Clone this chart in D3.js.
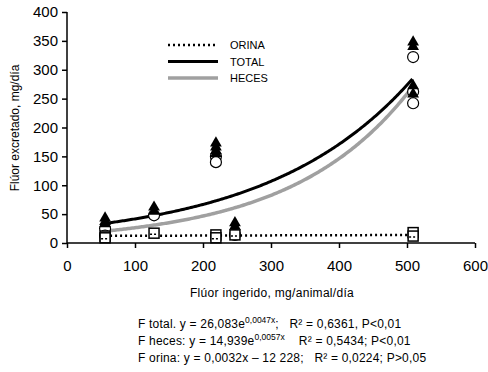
<!DOCTYPE html>
<html>
<head>
<meta charset="utf-8">
<script src="https://cdn.jsdelivr.net/npm/d3@7"></script>
<style>
  body { margin: 0; background: #fff; }
  svg text { font-family: "Liberation Sans", Arial, sans-serif; fill: #000; }
</style>
</head>
<body>
<div id="chart"></div>
<script>
// measured points
const totalX = [56, 56, 56, 128, 128, 219, 219, 219, 219, 247, 247, 509, 509, 509, 509];
const totalY = [43, 37, 33, 62, 55, 173, 166, 160, 155, 35, 29, 348, 340, 272, 258];
const hecesX = [56, 56, 128, 219, 219, 247, 509, 509, 509];
const hecesY = [25, 13, 48, 150, 140, 14, 322, 262, 242];
const orinaX = [56, 56, 128, 219, 219, 247, 509, 509];
const orinaY = [12, 9, 17, 14, 9, 14, 18, 12];

// regression coefficients as printed under the chart
const totalFit = [26.083, 0.0047];
const hecesFit = [14.939, 0.0057];
const orinaFit = [0.0032, 12.228];
const fitRange = [56, 509];

const xTicks = [0, 100, 200, 300, 400, 500, 600];
const yTicks = [0, 50, 100, 150, 200, 250, 300, 350, 400];
const legendItems = ["ORINA", "TOTAL", "HECES"];
const notes = [
  ["F total. y = 26,083e", "0,0047x", ";   R² = 0,6361, P<0,01"],
  ["F heces: y = 14,939e", "0,0057x", "    R² = 0,5434; P<0,01"],
  ["F orina: y = 0,0032x – 12 228;   R² = 0,0224; P>0,05", "", ""]
];

const width = 488, height = 372;
const svg = d3.select("#chart").append("svg")
  .attr("width", width).attr("height", height);

const x = d3.scaleLinear().domain([0, 600]).range([67, 475]);
const y = d3.scaleLinear().domain([0, 400]).range([243, 12]);

// axes
svg.append("g")
  .attr("transform", `translate(0,${y(0)})`)
  .call(d3.axisBottom(x).tickValues(xTicks).tickSize(5).tickPadding(12))
  .call(g => g.selectAll("text").style("font-size", "15px"))
  .call(g => g.selectAll("path,line").attr("stroke", "#000").attr("stroke-width", 1.5))
  .call(g => g.select(".domain").attr("d", `M${x(0)},0H${x(600)}`));

svg.append("g")
  .attr("transform", `translate(${x(0)},0)`)
  .call(d3.axisLeft(y).tickValues(yTicks).tickSize(5).tickPadding(4))
  .call(g => g.selectAll("text").style("font-size", "15px"))
  .call(g => g.selectAll("path,line").attr("stroke", "#000").attr("stroke-width", 1.5))
  .call(g => g.select(".domain").attr("d", `M0,${y(400)}V${y(0)}`));

// axis titles
svg.append("text")
  .attr("x", 272).attr("y", 297)
  .attr("text-anchor", "middle")
  .style("font-size", "12px")
  .style("letter-spacing", "0.3px")
  .text("Flúor ingerido, mg/animal/día");

svg.append("text")
  .attr("transform", `translate(19,128) rotate(-90)`)
  .attr("text-anchor", "middle")
  .style("font-size", "12px")
  .text("Flúor excretado, mg/día");

// fitted curves
const xs = d3.range(fitRange[0], fitRange[1] + 1, 2);
const line = d3.line().x(d => x(d[0])).y(d => y(d[1]));

svg.append("path")
  .attr("d", line(xs.map(v => [v, hecesFit[0] * Math.exp(hecesFit[1] * v)])))
  .attr("fill", "none").attr("stroke", "#a0a0a0").attr("stroke-width", 3.5);

svg.append("path")
  .attr("d", line(xs.map(v => [v, totalFit[0] * Math.exp(totalFit[1] * v)])))
  .attr("fill", "none").attr("stroke", "#000").attr("stroke-width", 3);

svg.append("path")
  .attr("d", line(xs.map(v => [v, orinaFit[0] * v + orinaFit[1]])))
  .attr("fill", "none").attr("stroke", "#000").attr("stroke-width", 2.5)
  .attr("stroke-dasharray", "2,3");

// markers
svg.selectAll("circle.heces")
  .data(hecesX.map((d, i) => [d, hecesY[i]]))
  .join("circle")
  .attr("cx", d => x(d[0])).attr("cy", d => y(d[1]))
  .attr("r", 5.5)
  .attr("fill", "#fff").attr("stroke", "#000").attr("stroke-width", 1.2);

const tri = d3.symbol().type(d3.symbolTriangle).size(60);
svg.selectAll("path.total")
  .data(totalX.map((d, i) => [d, totalY[i]]))
  .join("path")
  .attr("transform", d => `translate(${x(d[0])},${y(d[1])})`)
  .attr("d", tri)
  .attr("fill", "#000");

const sq = svg.selectAll("g.orina")
  .data(orinaX.map((d, i) => [d, orinaY[i]]))
  .join("g")
  .attr("transform", d => `translate(${x(d[0])},${y(d[1])})`);
sq.append("rect")
  .attr("x", -5).attr("y", -5).attr("width", 10).attr("height", 10)
  .attr("fill", "#fff").attr("stroke", "#000").attr("stroke-width", 1.5);
sq.append("line")
  .attr("x1", -4).attr("x2", 4).attr("y1", 1).attr("y2", 1)
  .attr("stroke", "#000").attr("stroke-width", 1.5).attr("stroke-dasharray", "2,2");

// legend
const lg = svg.append("g").attr("transform", "translate(168,45)");
const legStyles = [
  { stroke: "#000", width: 2.5, dash: "2,3" },
  { stroke: "#000", width: 3, dash: null },
  { stroke: "#a0a0a0", width: 3.5, dash: null }
];
legendItems.forEach((name, i) => {
  const s = legStyles[i];
  lg.append("line")
    .attr("x1", 0).attr("x2", 50).attr("y1", i * 16.5).attr("y2", i * 16.5)
    .attr("stroke", s.stroke).attr("stroke-width", s.width)
    .attr("stroke-dasharray", s.dash);
  lg.append("text")
    .attr("x", 62).attr("y", i * 16.5 + 4)
    .style("font-size", "11px")
    .text(name);
});

// equations
notes.forEach((n, i) => {
  const t = svg.append("text")
    .attr("x", 138).attr("y", 328 + i * 17)
    .style("font-size", "12px")
    .style("letter-spacing", "0.2px")
    .style("white-space", "pre");
  t.append("tspan").text(n[0]);
  if (n[1]) {
    t.append("tspan").attr("dy", -5).style("font-size", "8.5px").style("letter-spacing", "0px").text(n[1]);
    t.append("tspan").attr("dy", 5).text(n[2]);
  }
});
</script>
</body>
</html>
